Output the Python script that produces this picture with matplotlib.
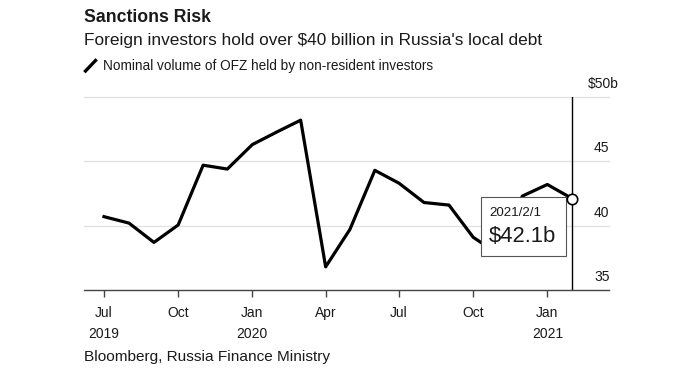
import matplotlib.pyplot as plt
import matplotlib.dates as mdates
import matplotlib.transforms as mtransforms
from matplotlib.patches import Rectangle
from matplotlib.lines import Line2D
import pandas as pd

plt.rcParams['font.family'] = ['Liberation Sans', 'DejaVu Sans']

# Monthly data, Jul 2019 - Feb 2021 (USD billions)
months = pd.date_range('2019-07-01', '2021-02-01', freq='MS')
values = [40.7, 40.2, 38.7, 40.05, 44.7, 44.4, 46.3, 47.3, 48.2, 36.8,
          39.7, 44.3, 43.3, 41.8, 41.6, 39.1, 37.8, 42.3, 43.2, 42.1]

tick_dates = pd.to_datetime(['2019-07-01', '2019-10-01', '2020-01-01', '2020-04-01',
                             '2020-07-01', '2020-10-01', '2021-01-01'])
tick_labels = ['Jul\n2019', 'Oct', 'Jan\n2020', 'Apr', 'Jul', 'Oct', 'Jan\n2021']
y_ticks = [35, 40, 45, 50]
y_labels = ['35', '40', '45', '\\$50b']

text_col = '#1a1a1a'

fig = plt.figure(figsize=(6.8, 3.74), dpi=100)
ax = fig.add_axes([84 / 680, 84 / 374, 525 / 680, 193 / 374])

# grid lines
for v in y_ticks[1:]:
    ax.axhline(v, color='#e2e2e2', lw=1, zorder=1, clip_on=False)

# series
ax.plot(months, values, color='black', lw=2.3, zorder=3)

# cursor line + marker
ax.axvline(months[-1], color='black', lw=1, zorder=2)
ax.plot(months[-1], values[-1], 'o', ms=7.5, mfc='white', mec='black', mew=1.2,
        zorder=8, clip_on=False)

# tooltip box, placed in pixels relative to the last point
trans = mtransforms.Affine2D() + mtransforms.ScaledTranslation(
    mdates.date2num(months[-1]), values[-1], ax.transData)
box = Rectangle((-91.5, -57), 85, 58.3, transform=trans, fc='white',
                ec='#555555', lw=0.8, zorder=5, clip_on=False)
ax.add_artist(box)
ax.annotate('2021/2/1', xy=(months[-1], values[-1]), xytext=(-82.5, -14.3),
            textcoords='offset pixels', ha='left', va='center', fontsize=9.6,
            color=text_col, zorder=7)
ax.annotate('\\$42.1b', xy=(months[-1], values[-1]), xytext=(-84, -37.7),
            textcoords='offset pixels', ha='left', va='center', fontsize=15.8,
            color=text_col, zorder=7)

# axes styling
ax.set_ylim(35, 50)
ax.set_xlim(pd.Timestamp('2019-06-06 05:00'), pd.Timestamp('2021-03-18 12:00'))
for s in ['top', 'left', 'right']:
    ax.spines[s].set_visible(False)
ax.spines['bottom'].set_color('#444444')
ax.spines['bottom'].set_linewidth(1)
ax.set_yticks([])
ax.set_xticks(tick_dates)
ax.set_xticklabels(tick_labels, fontsize=10, color=text_col)
for lab in ax.get_xticklabels():
    lab.set_linespacing(1.6)
ax.tick_params(axis='x', direction='out', length=4.8, width=1, color='#444444', pad=6.8)

# y labels on the right, above the gridlines
for v, lab in zip(y_ticks, y_labels):
    xa = 0.960 if lab.startswith('\\$') else 0.9714
    ax.annotate(lab, xy=(xa, v), xycoords=('axes fraction', 'data'),
                xytext=(0, 13), textcoords='offset pixels', ha='left', va='center',
                fontsize=10, color=text_col)

# header / footer
fig.text(84 / 680, 1 - 22.5 / 374, 'Sanctions Risk', fontsize=12.7, fontweight='bold',
         color=text_col, va='baseline')
fig.text(84 / 680, 1 - 44.5 / 374, "Foreign investors hold over \\$40 billion in Russia's local debt",
         fontsize=12.4, color=text_col, va='baseline')
fig.add_artist(Line2D([85.5 / 680, 95.5 / 680], [1 - 71 / 374, 1 - 60.5 / 374],
                      transform=fig.transFigure, color='black', lw=2.4))
fig.text(103 / 680, 1 - 70 / 374, 'Nominal volume of OFZ held by non-resident investors',
         fontsize=9.8, color=text_col, va='baseline')
fig.text(84 / 680, 1 - 361.5 / 374, 'Bloomberg, Russia Finance Ministry', fontsize=11.1,
         color=text_col, va='baseline')

plt.savefig('out.png', dpi=100)
